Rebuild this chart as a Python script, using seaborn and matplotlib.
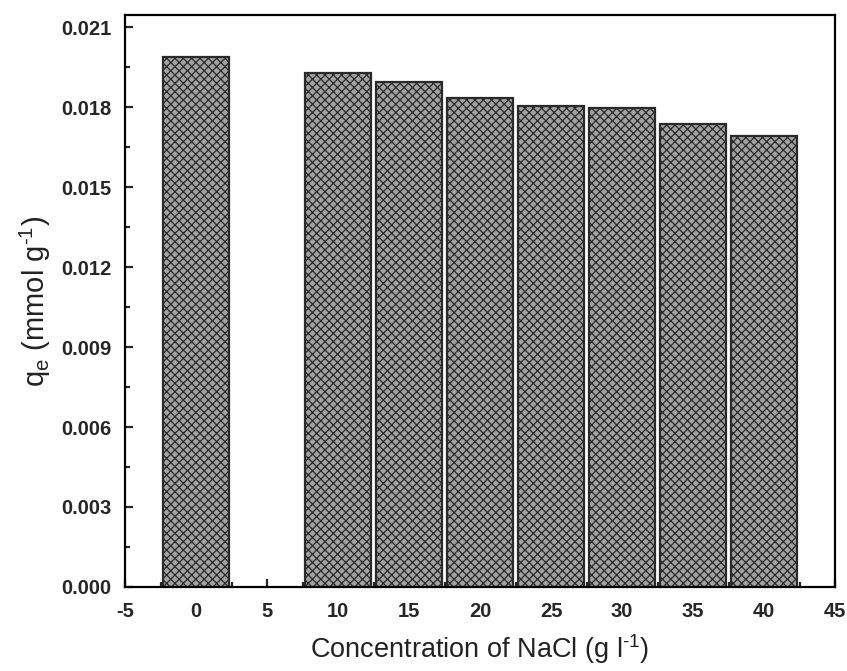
import matplotlib
matplotlib.use("Agg")
import matplotlib.pyplot as plt
import seaborn as sns
import pandas as pd
from matplotlib.ticker import MultipleLocator, FormatStrFormatter

nacl = [0, 10, 15, 20, 25, 30, 35, 40]
qe = [0.01988, 0.01929, 0.01892, 0.01834, 0.01804, 0.01796, 0.01736, 0.01692]

sns.set_theme(style="ticks")
plt.rcParams['font.family'] = ['Liberation Sans', 'DejaVu Sans']
plt.rcParams['mathtext.fontset'] = 'custom'
plt.rcParams['mathtext.rm'] = 'Liberation Sans'
plt.rcParams['mathtext.it'] = 'Liberation Sans'
plt.rcParams['hatch.color'] = '#2b2b2b'
plt.rcParams['hatch.linewidth'] = 0.9

df = pd.DataFrame({"NaCl": nacl, "qe": qe})

fig = plt.figure(figsize=(8.47, 6.71), dpi=100)
ax = fig.add_axes([0.1476, 0.1252, 0.8384, 0.8524])

sns.barplot(data=df, x="NaCl", y="qe", native_scale=True, width=0.92,
            color="#a2a2a2", saturation=1, edgecolor="#2a2a2a", linewidth=1.6,
            ax=ax, errorbar=None)
for p in ax.patches:
    p.set_hatch("xxxx")

ax.set_xlim(-5, 45)
ax.set_ylim(0, 0.02145)
ax.xaxis.set_major_locator(MultipleLocator(5))
ax.xaxis.set_minor_locator(MultipleLocator(2.5))
ax.yaxis.set_major_locator(MultipleLocator(0.003))
ax.yaxis.set_minor_locator(MultipleLocator(0.0015))
ax.yaxis.set_major_formatter(FormatStrFormatter('%.3f'))
ax.xaxis.set_major_formatter(FormatStrFormatter('%d'))

for s in ax.spines.values():
    s.set_linewidth(1.6)
    s.set_color('black')
ax.tick_params(which='major', direction='in', length=6, width=1.6, labelsize=14.5,
               top=False, right=False)
ax.tick_params(axis='x', which='major', pad=11)
ax.tick_params(axis='y', which='major', pad=10)
ax.tick_params(which='minor', direction='in', length=3.5, width=1.6, top=False, right=False)
for lab in ax.get_xticklabels() + ax.get_yticklabels():
    lab.set_fontweight('bold')

ax.set_xlabel(r'Concentration of NaCl (g l$^{\text{-1}}$)', fontsize=19.5, labelpad=8, color='#222222')
ax.set_ylabel(r'q$_{\mathregular{e}}$ (mmol g$^{\text{-1}}$)', fontsize=21, labelpad=6, color='#222222')

fig.savefig("out.png", dpi=100)
